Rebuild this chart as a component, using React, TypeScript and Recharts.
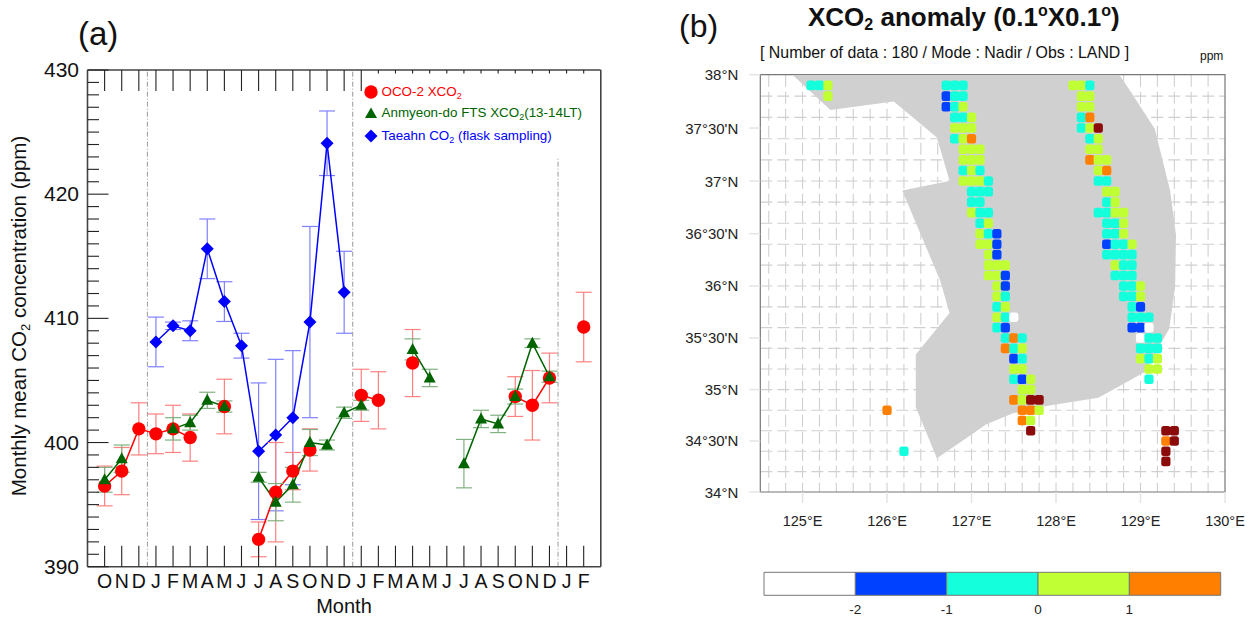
import React from 'react';
import {
  ComposedChart, ScatterChart, BarChart, Line, Scatter, Bar, ErrorBar, XAxis, YAxis,
  ReferenceLine, ReferenceArea, CartesianGrid, Legend,
} from 'recharts';

const FONT = '"Liberation Sans", Arial, sans-serif';

// ---------- Panel (a) ----------
const months = ['O','N','D','J','F','M','A','M','J','J','A','S','O','N','D','J','F','M','A','M','J','J','A','S','O','N','D','J','F'];
const _ = null;
const oco2 =      [396.5,397.7,401.1,400.7,401.1,400.4,_,402.9,_,392.2,396.0,397.7,399.4,_,_,403.8,403.4,_,406.4,_,_,_,_,_,403.7,403.0,405.2,_,409.3];
const oco2Err =   [1.6,1.9,2.1,1.6,1.9,1.9,_,2.2,_,1.4,4.0,1.5,1.7,_,_,2.1,2.3,_,2.7,_,_,_,_,_,1.6,2.8,2.0,_,2.8];
const fts =       [397.0,398.7,_,_,401.1,401.6,403.4,402.9,_,397.2,395.2,396.6,400.0,399.8,402.4,403.0,_,_,407.5,405.2,_,398.3,401.9,401.5,403.7,408.0,405.3,_,_];
const ftsErr =    [1.0,1.1,_,_,0.9,0.6,0.65,0.45,_,0.4,1.5,1.4,1.05,0.4,0.45,0.4,_,_,0.85,0.7,_,1.95,0.7,0.7,0.6,0.35,0.45,_,_];
const taeahn =    [_,_,_,408.1,409.4,409.0,415.6,411.35,407.8,399.3,400.6,402.0,409.7,424.1,412.1,_,_,_,_,_,_,_,_,_,_,_,_,_,_];
const taeahnErr = [_,_,_,2.0,0.3,0.8,2.4,1.6,1.0,5.5,6.1,5.4,7.7,2.6,3.3,_,_,_,_,_,_,_,_,_,_,_,_,_,_];
const yearBreaks = [2.5, 14.5];
const lastBreak = { x: 26.5, top: 423 };
const yTicks = [390,391,392,393,394,395,396,397,398,399,400,401,402,403,404,405,406,407,408,409,410,411,412,413,414,415,416,417,418,419,420,421,422,423,424,425,426,427,428,429,430];
const monthTicks = months.map((m, i) => i);
const monthData = months.map((m, i) => ({
  i, oco2: oco2[i], oco2Err: oco2Err[i], fts: fts[i], ftsErr: ftsErr[i], taeahn: taeahn[i], taeahnErr: taeahnErr[i],
}));

const TICK = '#222';
const FRAME = '#444';

const BottomTick = (p: any) => (
  <g>
    <line x1={p.x} x2={p.x} y1={p.y} y2={p.y - 21} stroke={TICK} strokeWidth={1.1} />
    <text x={p.x} y={p.y + 21} textAnchor="middle" fontSize={19.5} fill="#111" fontFamily={FONT}>{months[p.payload.value]}</text>
  </g>
);
const TopTick = (p: any) => {
  const len = p.payload.value <= 15 ? 21 : 3.5;
  return <line x1={p.x} x2={p.x} y1={p.y} y2={p.y + len} stroke={TICK} strokeWidth={1.1} />;
};
const LeftTick = (p: any) => {
  const v = p.payload.value;
  const major = v % 10 === 0;
  return (
    <g>
      <line x1={p.x} x2={p.x + (major ? 21 : 11.5)} y1={p.y} y2={p.y} stroke={TICK} strokeWidth={1.1} />
      {major && <text x={p.x - 8.5} y={p.y + 7} textAnchor="end" fontSize={21} fill="#111" fontFamily={FONT}>{v}</text>}
    </g>
  );
};
const RightTick = (p: any) => {
  const v = p.payload.value;
  const len = v % 10 === 0 ? (v === 430 ? 0 : 21) : v > 423 ? 3.5 : 11.5;
  return <line x1={p.x} x2={p.x - len} y1={p.y} y2={p.y} stroke={TICK} strokeWidth={1.1} />;
};

const RED = '#ff0000';
const GREEN = '#006400';
const BLUE = '#0000ff';

const CircleDot = (p: any) => (p.value == null ? <g key={p.key ?? p.index} /> : <circle key={p.key ?? p.index} cx={p.cx} cy={p.cy} r={6.7} fill={RED} />);
const TriDot = (p: any) => (p.value == null ? <g key={p.key ?? p.index} /> : (
  <path key={p.key ?? p.index} d={`M${p.cx} ${p.cy - 6.5}L${p.cx + 6} ${p.cy + 4.5}L${p.cx - 6} ${p.cy + 4.5}Z`} fill={GREEN} />
));
const DiamondDot = (p: any) => (p.value == null ? <g key={p.key ?? p.index} /> : (
  <path key={p.key ?? p.index} d={`M${p.cx} ${p.cy - 6.5}L${p.cx + 6.5} ${p.cy}L${p.cx} ${p.cy + 6.5}L${p.cx - 6.5} ${p.cy}Z`} fill={BLUE} />
));

const legendRows = [
  { label: 'OCO-2 XCO', sub: '2', rest: '', color: RED, top: 4, icon: <circle cx={8} cy={8} r={6.7} fill={RED} /> },
  { label: 'Anmyeon-do FTS XCO', sub: '2', rest: '(13-14LT)', color: GREEN, top: 25, icon: <path d="M8 2.5L14 13L2 13Z" fill={GREEN} /> },
  { label: 'Taeahn CO', sub: '2', rest: ' (flask sampling)', color: BLUE, top: 48, icon: <path d="M8 1.5L14.5 8L8 14.5L1.5 8Z" fill={BLUE} /> },
];
const LegendBox = () => (
  <div style={{ position: 'relative', width: 230, height: 70, fontFamily: FONT }}>
    {legendRows.map((r) => (
      <div key={r.label} style={{ position: 'absolute', left: 0, top: r.top, height: 16, whiteSpace: 'nowrap', color: r.color, fontSize: 13.4, lineHeight: '16px' }}>
        <svg width={16} height={16} style={{ position: 'absolute', left: 0, top: 0 }}>{r.icon}</svg>
        <span style={{ marginLeft: 18.5 }}>{r.label}<sub style={{ fontSize: 9, lineHeight: 0, verticalAlign: -3 }}>{r.sub}</sub>{r.rest}</span>
      </div>
    ))}
  </div>
);

const YTitle = () => (
  <text transform="translate(26 316) rotate(-90)" textAnchor="middle" fontSize={20.5} fill="#111" fontFamily={FONT}>
    Monthly mean CO<tspan fontSize={13} dy={4}>2</tspan><tspan dy={-4}> concentration (ppm)</tspan>
  </text>
);
const XTitle = () => (
  <text x={344} y={613} textAnchor="middle" fontSize={20} fill="#111" fontFamily={FONT}>Month</text>
);

const PanelA = () => (
  <ComposedChart width={627} height={617} data={monthData} margin={{ top: 69, left: 86.5, right: 25.2, bottom: 49.3 }}>
    <XAxis dataKey="i" type="number" domain={[-1, 29]} ticks={monthTicks} interval={0} height={1} tickSize={0} tickMargin={0}
      tickLine={false} axisLine={{ stroke: FRAME, strokeWidth: 1.6 }} tick={BottomTick} label={XTitle} />
    <XAxis xAxisId="top" orientation="top" dataKey="i" type="number" domain={[-1, 29]} ticks={monthTicks} interval={0} height={1} tickSize={0} tickMargin={0}
      tickLine={false} axisLine={{ stroke: FRAME, strokeWidth: 1.6 }} tick={TopTick} />
    <YAxis type="number" domain={[390, 430]} ticks={yTicks} interval={0} width={1} tickSize={0} tickMargin={0}
      tickLine={false} axisLine={{ stroke: FRAME, strokeWidth: 1.6 }} tick={LeftTick} label={YTitle} />
    <YAxis yAxisId="right" orientation="right" type="number" domain={[390, 430]} ticks={yTicks} interval={0} width={1} tickSize={0} tickMargin={0}
      tickLine={false} axisLine={{ stroke: FRAME, strokeWidth: 1.6 }} tick={RightTick} />
    {yearBreaks.map((x) => <ReferenceLine key={x} x={x} stroke="#999" strokeDasharray="5 2 1 2" strokeWidth={1} />)}
    <ReferenceLine stroke="#999" strokeDasharray="5 2 1 2" strokeWidth={1}
      segment={[{ x: lastBreak.x, y: 390 }, { x: lastBreak.x, y: lastBreak.top }]} />
    <Line dataKey="taeahn" stroke={BLUE} strokeWidth={1.5} dot={DiamondDot} activeDot={false} isAnimationActive={false} connectNulls={false}>
      <ErrorBar dataKey="taeahnErr" direction="y" width={8} stroke="#8080ff" strokeWidth={1.2} isAnimationActive={false} />
    </Line>
    <Line dataKey="oco2" stroke={RED} strokeWidth={1.5} dot={CircleDot} activeDot={false} isAnimationActive={false} connectNulls={false}>
      <ErrorBar dataKey="oco2Err" direction="y" width={8} stroke="#ff8080" strokeWidth={1.2} isAnimationActive={false} />
    </Line>
    <Line dataKey="fts" stroke={GREEN} strokeWidth={1.5} dot={TriDot} activeDot={false} isAnimationActive={false} connectNulls={false}>
      <ErrorBar dataKey="ftsErr" direction="y" width={8} stroke="#80b180" strokeWidth={1.2} isAnimationActive={false} />
    </Line>
    <Legend layout="vertical" align="center" verticalAlign="middle" content={LegendBox}
      wrapperStyle={{ position: 'absolute', left: 363, top: 80, width: 230, height: 70, bottom: 'auto', right: 'auto', margin: 0 }} />
  </ComposedChart>
);

// ---------- Panel (b) ----------
const merc = (lat: number) => (Math.log(Math.tan(Math.PI / 4 + (lat * Math.PI) / 360)) * 180) / Math.PI;

const binValues: Record<string, number> = { w: -2.5, b: -1.5, c: -0.5, y: 0.5, o: 1.5, r: 2.5 };
const binColors: Record<string, string> = { w: '#ffffff', b: '#0040ff', c: '#14ffdc', y: '#bfff33', o: '#ff7f00', r: '#8b0a0a' };

// each row: latitude, longitude of first pixel (0.1 deg steps), anomaly bins
const westGroup: [number, number, string][] = [
  [37.9, 125.1, 'ccy'], [37.8, 125.3, 'y'],
];
const swathWest: [number, number, string][] = [
  [37.9, 126.7, 'ccc'], [37.8, 126.7, 'bcc'], [37.7, 126.7, 'bcy'], [37.6, 126.8, 'ccy'], [37.5, 126.8, 'yyy'],
  [37.4, 126.8, 'cyo'], [37.3, 126.9, 'yyy'], [37.2, 126.9, 'yyy'], [37.1, 126.9, 'cyc'], [37.0, 126.9, 'yyyc'],
  [36.9, 127.0, 'ccc'], [36.8, 127.0, 'cc'], [36.7, 127.0, 'ycc'], [36.6, 127.1, 'cy'], [36.5, 127.1, 'ycb'],
  [36.4, 127.1, 'yyb'], [36.3, 127.2, 'yb'], [36.2, 127.2, 'yyy'], [36.1, 127.2, 'yyb'], [36.0, 127.3, 'yb'],
  [35.9, 127.3, 'yc'], [35.8, 127.3, 'cy'], [35.7, 127.3, 'ycw'], [35.6, 127.3, 'cb'], [35.5, 127.4, 'coc'],
  [35.4, 127.4, 'ocy'], [35.3, 127.5, 'bc'], [35.2, 127.5, 'yy'], [35.1, 127.5, 'cby'], [35.0, 127.6, 'yy'],
  [34.9, 127.5, 'oyrr'], [34.8, 127.6, 'ooy'], [34.7, 127.6, 'oy'], [34.6, 127.7, 'r'],
];
const swathEast: [number, number, string][] = [
  [37.9, 128.2, 'yyc'], [37.8, 128.3, 'yy'], [37.7, 128.3, 'yy'], [37.6, 128.3, 'co'], [37.5, 128.3, 'cyr'],
  [37.4, 128.4, 'cy'], [37.3, 128.4, 'yy'], [37.2, 128.4, 'oyy'], [37.1, 128.5, 'yo'], [37.0, 128.5, 'cc'],
  [36.9, 128.6, 'yy'], [36.8, 128.6, 'cy'], [36.7, 128.5, 'ccyy'], [36.6, 128.6, 'ccy'], [36.5, 128.6, 'ccy'],
  [36.4, 128.6, 'bccy'], [36.3, 128.6, 'cccc'], [36.2, 128.7, 'ycc'], [36.1, 128.7, 'ccc'], [36.0, 128.8, 'ccy'],
  [35.9, 128.8, 'ccy'], [35.8, 128.9, 'cb'], [35.7, 128.9, 'ccc'], [35.6, 128.9, 'bbw'], [35.5, 129.0, 'wcc'],
  [35.4, 129.0, 'ccc'], [35.3, 129.0, 'ycy'], [35.2, 129.1, 'yy'], [35.1, 129.1, 'c'],
];
const offshore: [number, number, string][] = [
  [34.8, 126.0, 'o'], [34.4, 126.2, 'c'],
  [34.6, 129.3, 'rr'], [34.5, 129.3, 'or'], [34.4, 129.3, 'r'], [34.3, 129.3, 'r'],
];
const cells = [...westGroup, ...swathWest, ...swathEast, ...offshore].flatMap(([lat, lon, s]) =>
  s.split('').map((c, k) => ({ lon: Math.round((lon + k * 0.1) * 10) / 10, y: merc(lat), v: binValues[c], bin: c })),
);

const landOutline: [number, number][] = [
  [124.88, 38], [125.33, 37.67], [126.08, 37.75], [126.59, 37.41], [126.74, 37.0], [126.18, 36.91], [126.63, 36.05],
  [126.74, 35.74], [126.34, 35.34], [126.34, 34.83], [126.59, 34.33], [126.98, 34.55], [127.17, 34.66], [127.49, 34.77],
  [127.81, 34.83], [128.5, 34.92], [128.7, 35.01], [129.05, 35.17], [129.34, 35.59], [129.41, 36.0], [129.42, 36.49],
  [129.35, 36.91], [129.17, 37.49], [128.91, 37.81], [128.75, 38],
];
const land = landOutline.map(([lon, lat]) => ({ lon, y: merc(lat) }));

const lonTicks = [125, 126, 127, 128, 129, 130];
const latTicks = [34, 34.5, 35, 35.5, 36, 36.5, 37, 37.5, 38];
const latLabels = ['34°N', "34°30'N", '35°N', "35°30'N", '36°N', "36°30'N", '37°N', "37°30'N", '38°N'];
const gridLons = [124.6, 124.8, 125, 125.2, 125.4, 125.6, 125.8, 126, 126.2, 126.4, 126.6, 126.8, 127, 127.2, 127.4, 127.6, 127.8, 128, 128.2, 128.4, 128.6, 128.8, 129, 129.2, 129.4, 129.6, 129.8];
const gridLats = [34.2, 34.4, 34.6, 34.8, 35, 35.2, 35.4, 35.6, 35.8, 36, 36.2, 36.4, 36.6, 36.8, 37, 37.2, 37.4, 37.6, 37.8];

const LonTick = (p: any) => (
  <g>
    <line x1={p.x} x2={p.x} y1={p.y} y2={p.y + 11} stroke="#e4e4e4" strokeWidth={1.5} />
    <text x={p.x} y={p.y + 34} textAnchor="middle" fontSize={14.5} fill="#222" fontFamily={FONT}>{p.payload.value}°E</text>
  </g>
);
const LatTick = (p: any) => (
  <g>
    <line x1={p.x} x2={p.x - 11} y1={p.y} y2={p.y} stroke="#e4e4e4" strokeWidth={1.5} />
    <text x={p.x - 22} y={p.y + 5.5} textAnchor="end" fontSize={15} fill="#222" fontFamily={FONT}>{latLabels[p.index]}</text>
  </g>
);

const LandShape = (p: any) => (
  <polygon points={(p.points || []).map((q: any) => `${q.x},${q.y}`).join(' ')} fill="#d0d0d0" stroke="none" />
);
const NoPoint = () => <g />;
const CellShape = (p: any) => (
  <rect x={p.cx - 4.6} y={p.cy - 4.8} width={9.2} height={9.6} rx={2.5} ry={2.5} fill={binColors[p.payload.bin]} />
);

const PanelB = () => (
  <ScatterChart width={627} height={617} margin={{ top: 74.7, left: 132.3, right: 29, bottom: 124 }}>
    <CartesianGrid stroke="#d0d0d0" strokeWidth={1.1} strokeDasharray="12 5" verticalValues={gridLons} horizontalValues={gridLats.map(merc)} />
    <XAxis dataKey="lon" type="number" domain={[124.5, 130]} ticks={lonTicks} interval={0} height={1} tickSize={0} tickMargin={0}
      tickLine={false} axisLine={false} tick={LonTick} allowDataOverflow />
    <YAxis dataKey="y" type="number" domain={[merc(34), merc(38)]} ticks={latTicks.map(merc)} interval={0} width={1} tickSize={0} tickMargin={0}
      tickLine={false} axisLine={false} tick={LatTick} allowDataOverflow />
    <Scatter data={land} line={LandShape} shape={NoPoint} isAnimationActive={false} />
    <ReferenceArea x1={124.5} x2={130} y1={merc(34)} y2={merc(38)} fill="none" stroke="#777" strokeWidth={1.2} />
    <Scatter data={cells} dataKey="v" shape={CellShape} isAnimationActive={false} />
  </ScatterChart>
);

// ---------- Colour bar ----------
const barBins = ['w', 'b', 'c', 'y', 'o'];
const barRow = [{ name: 'bar', w: 1, b: 1, c: 1, y: 1, o: 1 }];
const barTicks = [1, 2, 3, 4];
const barLabels = ['-2', '-1', '0', '1'];

const ColorBar = () => (
  <BarChart layout="vertical" width={500} height={46} data={barRow} margin={{ top: 2.3, left: 24, right: 19.3, bottom: 19.7 }} barCategoryGap={0}>
    <XAxis type="number" domain={[0, 5]} ticks={barTicks} interval={0} height={1} tickSize={0} tickMargin={0} axisLine={false} tickLine={false}
      tickFormatter={(v: number) => barLabels[v - 1]} tick={{ fontSize: 13.5, fill: '#222', fontFamily: FONT, dy: 9 }} />
    <YAxis type="category" dataKey="name" hide width={0} />
    {barBins.map((k) => (
      <Bar key={k} dataKey={k} stackId="a" fill={binColors[k]} stroke="#777" strokeWidth={1} isAnimationActive={false} />
    ))}
  </BarChart>
);

const abs = (left: number, top: number, extra: React.CSSProperties = {}): React.CSSProperties => ({
  position: 'absolute', left, top, whiteSpace: 'nowrap', lineHeight: 1, color: '#111', ...extra,
});

export default function App() {
  return (
    <div style={{ position: 'absolute', left: 0, top: 0, width: 1254, height: 617, overflow: 'hidden', background: '#fff', fontFamily: FONT }}>
      <div style={{ position: 'absolute', left: 0, top: 0 }}><PanelA /></div>
      <div style={{ position: 'absolute', left: 627, top: 0 }}><PanelB /></div>
      <div style={{ position: 'absolute', left: 740, top: 570 }}><ColorBar /></div>
      <div style={abs(78, 17, { fontSize: 33 })}>(a)</div>
      <div style={abs(679, 10, { fontSize: 32 })}>(b)</div>
      <div style={abs(808, 4, { fontSize: 26, fontWeight: 700 })}>
        XCO<sub style={{ fontSize: 16, lineHeight: 0, verticalAlign: -4 }}>2</sub> anomaly (0.1<sup style={{ fontSize: 16, lineHeight: 0 }}>o</sup>X0.1<sup style={{ fontSize: 16, lineHeight: 0 }}>o</sup>)
      </div>
      <div style={abs(760, 45, { fontSize: 15.9 })}>[ Number of data : 180 / Mode : Nadir / Obs : LAND ]</div>
      <div style={abs(1200, 50, { fontSize: 12 })}>ppm</div>
    </div>
  );
}
